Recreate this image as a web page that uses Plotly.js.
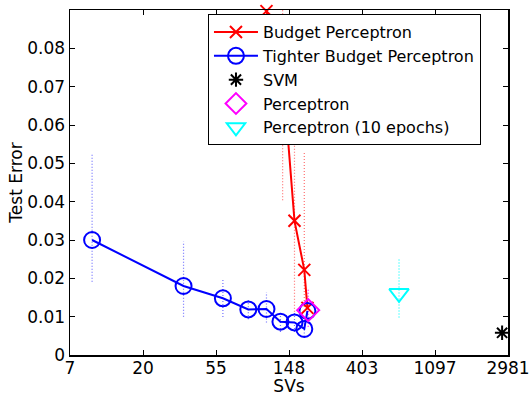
<!DOCTYPE html>
<html>
<head>
<meta charset="utf-8">
<script src="https://cdn.plot.ly/plotly-3.0.1.min.js"></script>
<style>html,body{margin:0;padding:0;background:#fff;}#chart{width:529px;height:396px;}</style>
</head>
<body>
<div id="chart"></div>
<script>
// Budget Perceptron
const budgetSV  = [109, 136, 160, 183, 191];
const budgetErr = [0.0897, 0.074, 0.035, 0.0222, 0.0123];
const budgetLo  = [null, 0.0404, 0.0113, 0.0125, null];
const budgetHi  = [null, 0.11, 0.0587, 0.0527, null];

// Tighter Budget Perceptron
const tightSV  = [10, 35, 60, 85, 109, 132, 160, 183, 191];
const tightErr = [0.030, 0.018, 0.0148, 0.0119, 0.012, 0.0087, 0.0085, 0.0068, 0.0115];
const tightLo  = [0.0191, 0.0100, 0.0099, 0.0093, 0.0085, 0.0060, 0.0060, 0.0048, 0.0095];
const tightHi  = [0.0524, 0.0296, 0.0201, 0.0143, 0.0164, 0.0115, 0.0110, 0.0090, 0.0135];

// SVM
const svmSV = [2750];
const svmErr = [0.0058];

// Perceptron
const percSV = [193];
const percErr = [0.0117];
const percLo = [0.0074];
const percHi = [0.017];

// Perceptron (10 epochs)
const perc10SV = [670];
const perc10Err = [0.0161];
const perc10Lo = [0.0098];
const perc10Hi = [0.025];

// Axis ticks
const xTickExp = [2, 3, 4, 5, 6, 7, 8];
const xTickText = ['7', '20', '55', '148', '403', '1097', '2981'];
const yTickVals = [0, 0.01, 0.02, 0.03, 0.04, 0.05, 0.06, 0.07, 0.08];
const yTickText = ['0', '0.01', '0.02', '0.03', '0.04', '0.05', '0.06', '0.07', '0.08'];

function errSegs(xs, lo, hi) {
  const X = [], Y = [];
  xs.forEach((x, i) => {
    if (lo[i] == null || hi[i] == null) return;
    X.push(x, x, null);
    Y.push(lo[i], hi[i], null);
  });
  return {x: X, y: Y};
}

function errTrace(xs, lo, hi, color) {
  const s = errSegs(xs, lo, hi);
  return {x: s.x, y: s.y, type: 'scatter', mode: 'lines', showlegend: false,
          hoverinfo: 'skip', line: {color: color, width: 1.2, dash: '1px,2px'}};
}

const FONT = 'DejaVu Sans, Liberation Sans, Arial, sans-serif';

const traces = [
  errTrace(tightSV, tightLo, tightHi, '#7070ff'),
  errTrace(budgetSV, budgetLo, budgetHi, '#ff7070'),
  errTrace(percSV, percLo, percHi, '#ff00ff'),
  errTrace(perc10SV, perc10Lo, perc10Hi, '#00ffff'),
  {x: budgetSV, y: budgetErr, type: 'scatter', mode: 'lines+markers', name: 'Budget Perceptron',
   cliponaxis: false,
   line: {color: '#ff0000', width: 2},
   marker: {symbol: 'x-thin-open', size: 12, color: '#ff0000', line: {color: '#ff0000', width: 2}}},
  {x: tightSV, y: tightErr, type: 'scatter', mode: 'lines+markers', name: 'Tighter Budget Perceptron',
   line: {color: '#0000ff', width: 2},
   marker: {symbol: 'circle-open', size: 16, color: '#0000ff', line: {color: '#0000ff', width: 2}}},
  {x: svmSV, y: svmErr, type: 'scatter', mode: 'markers', name: 'SVM', cliponaxis: false,
   marker: {symbol: 'asterisk-open', size: 12, color: '#000000', line: {color: '#000000', width: 2}}},
  {x: percSV, y: percErr, type: 'scatter', mode: 'markers', name: 'Perceptron',
   marker: {symbol: 'diamond-open', size: 17, color: '#ff00ff', line: {color: '#ff00ff', width: 2}}},
  {x: perc10SV, y: perc10Err, type: 'scatter', mode: 'markers', name: 'Perceptron (10 epochs)',
   marker: {symbol: 'triangle-down-open', size: 17, color: '#00ffff', line: {color: '#00ffff', width: 2}}}
];

const layout = {
  width: 529, height: 396,
  margin: {l: 70, r: 21, t: 10, b: 41, pad: 0},
  paper_bgcolor: '#ffffff', plot_bgcolor: '#ffffff',
  font: {family: FONT, size: 17, color: '#000000'},
  showlegend: true,
  xaxis: {
    type: 'log',
    range: [2 / Math.LN10 - 1e-6, 8 / Math.LN10 + 1e-6],
    tickvals: xTickExp.map(k => Math.exp(k)),
    ticktext: xTickText,
    ticklabeloverflow: 'allow',
    ticklabelstandoff: -3,
    ticks: 'inside', ticklen: 5, tickwidth: 1, tickcolor: '#000',
    showline: true, linecolor: '#000', linewidth: 1.5, mirror: 'ticks',
    showgrid: false, zeroline: false,
    tickfont: {family: FONT, size: 17, color: '#000'},
    title: {text: 'SVs', font: {family: FONT, size: 17, color: '#000'}, standoff: 9}
  },
  yaxis: {
    range: [0, 0.09],
    tickvals: yTickVals,
    ticktext: yTickText,
    ticks: 'inside', ticklen: 5, tickwidth: 1, tickcolor: '#000',
    showline: true, linecolor: '#000', linewidth: 1.5, mirror: 'ticks',
    showgrid: false, zeroline: false,
    tickfont: {family: FONT, size: 17, color: '#000'},
    title: {text: 'Test Error', font: {family: FONT, size: 17, color: '#000'}, standoff: 0}
  },
  legend: {
    x: 0.315, y: 0.988, xanchor: 'left', yanchor: 'top',
    bgcolor: '#ffffff', bordercolor: '#000000', borderwidth: 1,
    font: {family: FONT, size: 16, color: '#000'},
    itemwidth: 44, tracegroupgap: 0, traceorder: 'normal'
  }
};

Plotly.newPlot('chart', traces, layout, {displayModeBar: false, staticPlot: true});
</script>
</body>
</html>
